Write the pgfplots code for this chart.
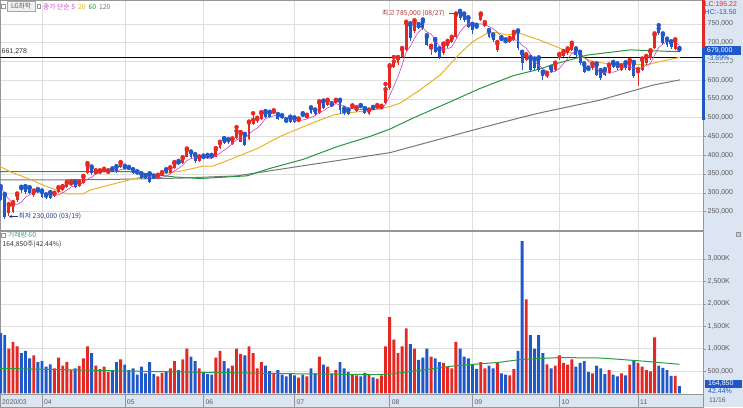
\documentclass[border=0pt]{standalone}
\usepackage{fontspec}
\setmainfont{Liberation Sans}
\newfontfamily\kr{Noto Sans CJK KR}
\usepackage{pgfplots}
\usepackage{pgfplotstable}
\pgfplotsset{compat=1.18}
\usetikzlibrary{arrows.meta}
\definecolor{cred}{RGB}{228,40,36}
\definecolor{cblue}{RGB}{32,88,200}
\definecolor{ma5}{RGB}{196,70,196}
\definecolor{ma20}{RGB}{234,178,40}
\definecolor{ma60}{RGB}{38,150,62}
\definecolor{ma120}{RGB}{120,120,120}
\definecolor{gridgray}{RGB}{222,222,222}
\definecolor{framegray}{RGB}{150,150,150}
\definecolor{labgray}{RGB}{90,90,90}
\definecolor{panel}{RGB}{220,230,242}
\definecolor{darkred}{RGB}{176,48,48}
\definecolor{darkblue}{RGB}{40,60,140}
\definecolor{volgreen}{RGB}{40,160,60}
\definecolor{tealg}{RGB}{80,150,120}

\pgfplotstableread{
i o h l c d v m5
0 312 318 278 281 -1 1350 317.4
1 294 297 230 235 -1 1300 295.4
2 245 270 238 267 1 1000 282.8
3 250 275 245 268 1 1150 272.2
4 281 298 276 294 1 1050 269.0
5 312 316 300 309 -1 900 274.6
6 312 318 298 302 -1 950 288.0
7 312 315 296 300 -1 780 294.6
8 294 306 290 302 1 850 301.4
9 306 310 300 304 -1 700 303.4
10 302 306 286 289 -1 720 299.4
11 292 296 284 289 -1 600 296.8
12 299 302 283 286 -1 650 294.0
13 294 300 290 297 1 560 293.0
14 302 315 300 312 1 800 294.6
15 307 318 305 315 1 620 299.8
16 315 329 313 326 1 700 307.2
17 322 330 318 325 1 520 315.0
18 326 330 312 315 -1 560 318.6
19 318 330 315 326 1 610 321.4
20 326 345 324 342 1 780 326.8
21 352 379 350 374 1 1050 336.4
22 366 370 348 352 -1 900 341.8
23 350 360 346 355 1 620 349.8
24 353 360 350 356 1 540 355.8
25 357 364 354 360 1 600 359.4
26 353 360 350 356 1 480 355.8
27 361 365 356 359 -1 520 357.2
28 369 371 352 355 -1 700 357.2
29 369 382 366 379 1 760 361.8
30 368 372 362 366 -1 640 363.0
31 366 369 360 364 -1 520 364.6
32 360 363 350 352 -1 560 363.2
33 354 357 348 352 -1 420 362.6
34 350 352 337 339 -1 600 354.6
35 343 347 338 341 -1 450 349.6
36 350 352 326 329 -1 700 342.6
37 343 346 337 341 -1 430 340.4
38 339 348 336 345 1 380 339.0
39 349 355 346 352 1 460 341.6
40 360 363 350 352 -1 480 343.8
41 352 368 350 365 1 560 351.0
42 365 382 363 378 1 720 358.4
43 381 385 375 379 -1 520 365.2
44 378 395 376 392 1 760 373.2
45 396 418 394 414 1 1000 385.6
46 407 410 391 394 -1 820 391.4
47 400 403 378 385 -1 720 392.8
48 385 397 383 394 1 560 395.8
49 395 399 389 393 -1 480 396.0
50 397 401 391 395 -1 430 392.2
51 398 401 390 393 -1 420 392.0
52 396 419 394 416 1 800 398.2
53 419 436 417 432 1 950 405.8
54 442 446 429 432 -1 720 413.6
55 440 443 431 434 -1 560 421.4
56 431 445 428 442 1 620 431.2
57 445 475 443 465 1 1000 441.0
58 436 462 434 458 1 880 446.2
59 454 457 424 427 -1 850 445.2
60 442 490 440 487 1 1050 455.8
61 483 512 480 494 1 900 466.2
62 490 500 487 496 1 560 472.4
63 497 515 495 512 1 700 483.2
64 513 518 498 501 -1 620 498.0
65 513 516 498 501 -1 500 500.8
66 514 520 511 516 1 460 505.2
67 507 510 494 497 -1 520 505.4
68 504 507 496 499 -1 420 502.8
69 492 496 486 491 -1 380 500.8
70 500 503 486 489 -1 450 498.4
71 499 501 487 489 -1 400 493.0
72 493 498 490 494 1 350 492.4
73 508 512 503 507 -1 420 494.0
74 503 508 500 504 1 380 496.6
75 525 528 510 513 -1 560 501.4
76 519 522 507 510 -1 450 505.6
77 512 544 510 540 1 820 514.8
78 543 546 522 525 -1 640 518.4
79 534 548 531 545 1 600 526.6
80 535 539 530 534 -1 450 530.8
81 540 548 536 545 1 520 537.8
82 545 548 510 521 -1 700 534.0
83 517 525 507 516 -1 560 532.2
84 519 522 507 510 -1 480 525.2
85 525 533 522 530 1 420 524.4
86 518 528 515 525 1 400 520.4
87 531 534 526 530 -1 380 522.2
88 523 526 510 513 -1 460 521.6
89 509 522 506 519 1 430 523.4
90 526 529 521 525 -1 360 522.4
91 529 534 526 530 1 330 523.4
92 527 532 523 528 1 400 523.0
93 539 590 537 576 1 1050 535.6
94 578 640 575 636 1 1700 559.0
95 636 662 633 650 1 1200 584.0
96 645 662 640 658 1 900 609.6
97 663 686 660 682 1 1050 640.4
98 681 756 678 752 1 1450 675.6
99 747 752 705 712 -1 1100 690.8
100 730 760 726 756 1 1000 712.0
101 744 750 736 742 -1 750 728.8
102 756 762 733 738 -1 800 740.0
103 716 720 690 694 -1 1000 728.4
104 684 692 668 687 1 820 723.4
105 707 710 672 676 -1 780 707.4
106 681 685 657 663 -1 700 691.6
107 672 698 668 694 1 680 682.8
108 690 705 686 700 1 600 684.0
109 703 716 700 712 1 560 689.0
110 716 778 712 774 1 1150 708.6
111 783 785 760 765 -1 1000 729.0
112 774 778 756 761 -1 820 742.4
113 765 768 740 743 -1 780 751.0
114 747 750 722 734 -1 650 755.4
115 743 748 736 741 -1 550 748.8
116 761 778 758 774 1 700 750.6
117 745 755 741 750 1 560 748.4
118 730 734 712 716 -1 620 743.0
119 718 722 702 706 -1 560 737.4
120 681 702 676 698 1 680 728.8
121 710 715 704 708 -1 450 715.6
122 704 709 698 702 -1 420 706.0
123 703 713 700 709 1 400 704.6
124 707 729 704 725 1 540 708.4
125 730 733 680 685 -1 950 705.8
126 672 676 627 645 -1 3400 693.2
127 654 669 650 665 1 2100 685.8
128 658 662 622 627 -1 1300 669.4
129 654 658 628 632 -1 1000 650.8
130 658 661 622 627 -1 1300 639.2
131 620 623 601 610 -1 900 632.2
132 613 620 605 615 1 650 622.2
133 632 636 620 623 -1 560 621.4
134 627 647 624 643 1 620 623.6
135 658 670 655 667 1 850 631.6
136 665 678 661 674 1 680 644.4
137 672 685 668 681 1 640 657.6
138 681 700 678 694 1 760 671.8
139 681 685 663 667 -1 600 676.6
140 672 676 641 645 -1 680 672.2
141 641 645 619 623 -1 720 662.0
142 630 634 624 628 -1 480 651.4
143 632 645 628 641 1 450 640.8
144 641 645 610 614 -1 620 630.2
145 623 627 600 605 -1 560 622.2
146 627 630 610 614 -1 430 620.4
147 620 642 616 638 1 520 622.4
148 645 649 632 636 -1 420 621.4
149 641 645 628 632 -1 380 625.0
150 627 640 624 636 1 450 631.2
151 645 648 628 632 -1 400 634.8
152 627 654 624 650 1 640 637.2
153 645 649 606 610 -1 720 632.0
154 622 630 585 624 1 680 630.4
155 627 658 624 654 1 600 634.0
156 645 665 641 661 1 520 639.8
157 658 680 655 676 1 490 645.0
158 685 725 682 721 1 1250 667.2
159 738 747 721 725 -1 620 687.4
160 721 725 694 698 -1 570 696.2
161 707 711 688 695 -1 520 703.0
162 700 704 684 688 -1 390 705.4
163 684 709 680 705 1 390 702.2
164 682 686 675 679 -1 165 693.0
}\data

\pgfplotsset{
  chartbase/.style={
    scale only axis, width=703pt,
    xmin=-0.15, xmax=169.7,
    xtick={10,30,49,71,94,114,135,154}, xticklabels={},
    x tick style={draw=none},
    xmajorgrids, ymajorgrids,
    grid style={draw=gridgray, line width=0.5pt},
    axis line style={draw=framegray},
    ytick pos=right, yticklabel pos=right,
    y tick style={draw=framegray},
    tick align=outside, major tick length=3pt,
    yticklabel style={font=\fontsize{7}{8}\selectfont, text=labgray, inner sep=1.5pt},
    /pgf/number format/assume math mode=true,
  }
}

\begin{document}
\fontsize{7}{8}\selectfont
\begin{tikzpicture}
\useasboundingbox (0pt,0pt) rectangle (743pt,407pt);
\fill[panel] (703pt,0pt) rectangle (743pt,407pt);
\fill[panel] (0pt,0pt) rectangle (703pt,13pt);

% ---------- price panel ----------
\begin{axis}[chartbase,
  at={(0pt,177pt)}, anchor=south west, height=230pt,
  ymin=200.667, ymax=814,
  ytick={250,300,350,400,450,500,550,600,650,700,750},
  yticklabels={{250,000},{300,000},{350,000},{400,000},{450,000},{500,000},{550,000},{600,000},{650,000},{700,000},{750,000}},
]
\addplot[black, line width=1.3pt] coordinates {(-1,661.278) (171,661.278)};
\addplot[ma120, line width=1pt] coordinates {(-0.15,334) (24,335) (43.3,339) (57.1,345) (73.1,372) (94.1,407) (115.8,472) (125.5,500) (130.3,513) (144.8,547) (157.6,587) (164.1,601)};
\addplot[ma60, line width=1pt] coordinates {(-0.15,356) (31.3,356) (36,350) (42.1,342) (48.2,338) (59.5,345) (65.1,365) (73.1,389) (81.3,423) (89.2,450) (94.1,470) (99.6,499) (107.9,539) (115.8,578) (123.8,612) (130.3,630) (133.5,642) (141.7,667) (152.1,681) (164.1,676)};
\addplot[ma20, line width=1pt] coordinates {(-0.15,370) (2.3,356) (6.4,339) (10.2,321) (14.4,303) (16,297) (19.9,297) (21.6,307) (26.4,321) (32,337) (35.4,345) (40.2,353) (43.3,357) (48.9,371) (51.3,371) (57.1,396) (62,418) (67.5,450) (73.1,476) (77.2,494) (80.3,507) (82.7,512) (89.2,519) (91.7,525) (94.1,530) (96.5,539) (101.3,574) (106.2,614) (111,672) (114.1,703) (117.5,725) (119.5,728) (122.3,721) (125.5,725) (130.3,707) (135.2,685) (140,663) (143.1,650) (147.2,643) (152.1,643) (156.2,641) (159.3,650) (164.1,661)};
% wicks
\addplot[cred, only marks, mark=none, error bars/.cd, y dir=minus, y explicit, error mark=none,
  error bar style={line width=0.8pt, draw=cred}]
  table[x=i, y expr={\thisrow{d}>0 ? \thisrow{h} : nan}, y error minus expr={\thisrow{h}-\thisrow{l}}] {\data};
\addplot[cblue, only marks, mark=none, error bars/.cd, y dir=minus, y explicit, error mark=none,
  error bar style={line width=0.8pt, draw=cblue}]
  table[x=i, y expr={\thisrow{d}<0 ? \thisrow{h} : nan}, y error minus expr={\thisrow{h}-\thisrow{l}}] {\data};
% bodies
\addplot[cred, only marks, mark=none, error bars/.cd, y dir=minus, y explicit, error mark=none,
  error bar style={line width=2.9pt, draw=cred}]
  table[x=i, y expr={\thisrow{d}>0 ? \thisrow{c} : nan}, y error minus expr={max(\thisrow{c}-\thisrow{o},1.5)}] {\data};
\addplot[cblue, only marks, mark=none, error bars/.cd, y dir=minus, y explicit, error mark=none,
  error bar style={line width=2.9pt, draw=cblue}]
  table[x=i, y expr={\thisrow{d}<0 ? \thisrow{o} : nan}, y error minus expr={max(\thisrow{o}-\thisrow{c},1.5)}] {\data};
\addplot[ma5, line width=0.6pt] table[x=i, y=m5] {\data};
\end{axis}

% ---------- volume panel ----------
\begin{axis}[chartbase,
  at={(0pt,13pt)}, anchor=south west, height=163pt,
  ymin=-13, ymax=3625,
  ytick={500,1000,1500,2000,2500,3000},
  yticklabels={{500,000},{1,000K},{1,500K},{2,000K},{2,500K},{3,000K}},
]
\addplot[ybar, bar width=2.9pt, bar shift=0pt, fill=cred, draw=none]
  table[x=i, y expr={\thisrow{d}>0 ? \thisrow{v} : nan}] {\data};
\addplot[ybar, bar width=2.9pt, bar shift=0pt, fill=cblue, draw=none]
  table[x=i, y expr={\thisrow{d}<0 ? \thisrow{v} : nan}] {\data};
\addplot[volgreen, line width=1pt] coordinates {(-0.15,560) (10,540) (30,500) (50,470) (70,440) (90,420) (94,430) (100,500) (110,620) (120,690) (126,760) (135,800) (145,790) (154,730) (164,650)};
\end{axis}

% ---------- date strip ----------
\begin{axis}[
  at={(0pt,0pt)}, anchor=south west, scale only axis, width=703pt, height=13pt,
  xmin=-0.15, xmax=169.7, ymin=0, ymax=1, ytick=\empty,
  xtick={-0.15,10,30,49,71,94,114,135,154},
  xticklabels={2020/03,04,05,06,07,08,09,10,11},
  xmajorgrids, grid style={draw=framegray, line width=0.4pt},
  major tick length=0pt, axis line style={draw=framegray},
  xticklabel style={anchor=south west, xshift=1pt, yshift=1.5pt, inner sep=1pt, font=\fontsize{6.8}{7}\selectfont, text=labgray},
]
\addplot[draw=none] coordinates {(0,0.5)};
\end{axis}

% ---------- texts ----------
\draw[framegray] (1.2pt,399pt) rectangle (4.8pt,402.6pt);
\draw[gray!70, fill=gray!12] (7pt,395.5pt) rectangle (35pt,405.5pt);
\node[anchor=center, inner sep=0pt, text=labgray] at (21pt,400.5pt) {\kr\fontsize{6.5}{7}\selectfont LG화학};
\draw[framegray] (37pt,399pt) rectangle (40.6pt,402.6pt);
\node[anchor=west, inner sep=0pt] at (43pt,400.5pt) {\kr\fontsize{6.8}{7}\selectfont \textcolor{ma5}{종가 단순 5}\hspace{3pt}\textcolor{ma20}{20}\hspace{3pt}\textcolor{ma60}{60}\hspace{3pt}\textcolor{ma120}{120}};
\node[anchor=west, inner sep=0pt, text=black!80] at (1.5pt,355pt) {\fontsize{7}{8}\selectfont 661,278};

\node[anchor=west, inner sep=0pt, text=darkred] at (382pt,393.5pt) {\kr\fontsize{6.8}{7}\selectfont 최고 785,000 (08/27)};
\draw[darkred, line width=0.6pt, -{Stealth[length=3pt,width=3pt]}] (449pt,393.5pt) -- (459pt,393.5pt);
\draw[darkblue, line width=0.6pt, -{Stealth[length=3pt,width=3pt]}] (18pt,190.5pt) -- (9pt,190.5pt);
\node[anchor=west, inner sep=0pt, text=darkblue] at (18.5pt,190.5pt) {\kr\fontsize{6.8}{7}\selectfont 최저 230,000 (03/19)};

\draw[framegray] (1.2pt,170pt) rectangle (4.8pt,173.6pt);
\node[anchor=west, inner sep=0pt, text=tealg] at (8pt,171.8pt) {\kr\fontsize{6.8}{7}\selectfont 거래량 60};
\node[anchor=west, inner sep=0pt, text=black!80] at (2.5pt,163pt) {\kr\fontsize{6.8}{7}\selectfont 164,850주(42.44\%)};

% right panel
\fill[cred] (702.3pt,407pt) rectangle (704.5pt,359pt);
\fill[cblue] (702.3pt,359pt) rectangle (704.5pt,287pt);
\node[anchor=west, inner sep=0pt, text=cred] at (704.5pt,403pt) {\fontsize{7}{8}\selectfont LC:195.22};
\node[anchor=west, inner sep=0pt, text=cblue] at (704.5pt,394.5pt) {\fontsize{7}{8}\selectfont HC:-13.50};
\fill[cblue] (704.5pt,351.5pt) rectangle (741pt,360.5pt);
\node[anchor=west, inner sep=0pt, text=white] at (707pt,356pt) {\fontsize{7}{8}\selectfont 679,000};
\node[anchor=west, inner sep=0.6pt, fill=panel, text=cblue] at (706.4pt,348.5pt) {\fontsize{7}{8}\selectfont -3.69\%};
\fill[cblue] (705pt,19.5pt) rectangle (742pt,27.5pt);
\node[anchor=west, inner sep=0pt, text=white] at (708pt,23.5pt) {\fontsize{7}{8}\selectfont 164,850};
\node[anchor=west, inner sep=0pt, text=cblue] at (708pt,15.5pt) {\fontsize{7}{8}\selectfont 42.44\%};
\node[anchor=west, inner sep=0pt, text=labgray] at (709pt,6.5pt) {\fontsize{6.8}{7}\selectfont 11/16};
\draw[framegray, fill=gray!40] (736.5pt,170.5pt) rectangle (740.5pt,174.5pt);
\end{tikzpicture}
\end{document}
